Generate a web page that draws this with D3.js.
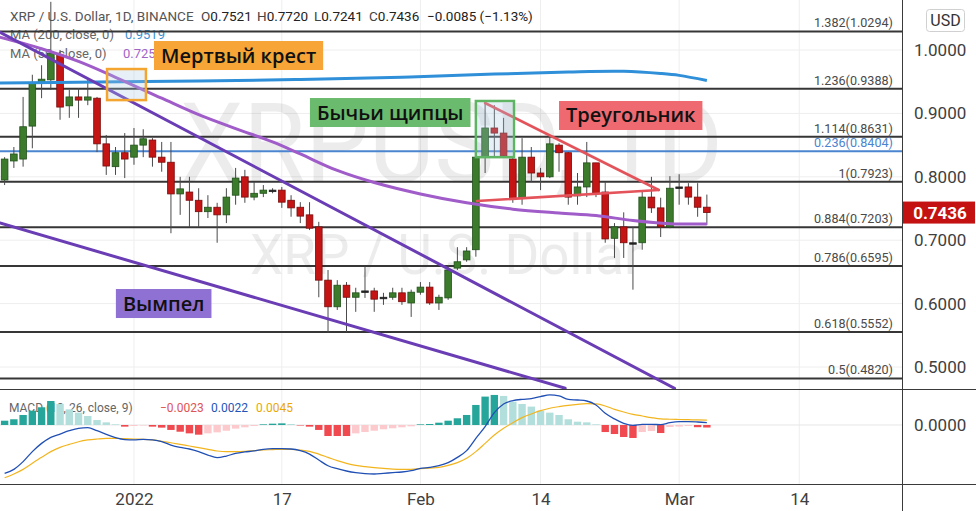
<!DOCTYPE html>
<html><head><meta charset="utf-8">
<script src="https://cdn.jsdelivr.net/npm/d3@7/dist/d3.min.js"></script>
<style>body{margin:0;background:#fff;overflow:hidden}svg{display:block;font-family:Roboto,"DejaVu Sans",sans-serif}</style>
</head><body><svg id="c" width="976" height="511"></svg>
<script>
// ---------- DATA ----------
const dates = d3.utcDay.range(new Date(Date.UTC(2021,11,18)), new Date(Date.UTC(2022,2,5)));
const open  = [0.795,0.825,0.828,0.880,0.948,0.953,0.992,0.912,0.926,0.921,0.924,0.852,0.816,0.838,0.831,0.850,0.858,0.831,0.823,0.773,0.776,0.763,0.745,0.752,0.740,0.771,0.800,0.768,0.774,0.779,0.779,0.763,0.752,0.740,0.721,0.637,0.595,0.629,0.610,0.620,0.620,0.610,0.610,0.617,0.601,0.618,0.626,0.601,0.609,0.656,0.669,0.685,0.831,0.877,0.869,0.828,0.767,0.831,0.806,0.800,0.850,0.838,0.770,0.784,0.822,0.776,0.703,0.721,0.696,0.696,0.768,0.751,0.721,0.784,0.784,0.768,0.7521];
const high  = [0.831,0.847,0.926,0.961,0.976,1.076,1.000,0.937,0.940,0.953,0.926,0.866,0.847,0.869,0.877,0.875,0.861,0.855,0.855,0.800,0.800,0.782,0.771,0.759,0.782,0.814,0.811,0.792,0.787,0.782,0.784,0.771,0.760,0.760,0.729,0.653,0.637,0.634,0.625,0.658,0.625,0.617,0.625,0.625,0.622,0.634,0.634,0.614,0.661,0.689,0.689,0.834,0.916,0.913,0.893,0.830,0.861,0.847,0.814,0.863,0.853,0.839,0.806,0.855,0.822,0.792,0.727,0.744,0.721,0.779,0.800,0.767,0.801,0.804,0.790,0.790,0.7720];
const low   = [0.787,0.814,0.816,0.845,0.924,0.937,0.890,0.893,0.893,0.913,0.839,0.803,0.803,0.798,0.819,0.831,0.816,0.808,0.711,0.740,0.721,0.721,0.735,0.696,0.727,0.756,0.759,0.763,0.768,0.774,0.751,0.737,0.727,0.716,0.610,0.554,0.590,0.555,0.587,0.609,0.587,0.598,0.606,0.598,0.579,0.614,0.598,0.590,0.606,0.653,0.666,0.674,0.806,0.830,0.830,0.759,0.756,0.792,0.779,0.798,0.808,0.756,0.756,0.768,0.768,0.696,0.672,0.672,0.622,0.685,0.743,0.705,0.719,0.756,0.756,0.737,0.7241];
const close = [0.828,0.836,0.879,0.948,0.954,0.995,0.910,0.926,0.921,0.926,0.852,0.817,0.838,0.828,0.850,0.860,0.831,0.823,0.773,0.781,0.763,0.745,0.752,0.740,0.768,0.798,0.768,0.774,0.779,0.778,0.760,0.751,0.738,0.719,0.637,0.595,0.629,0.610,0.617,0.618,0.607,0.609,0.617,0.603,0.618,0.626,0.601,0.610,0.653,0.666,0.683,0.831,0.877,0.869,0.833,0.765,0.831,0.806,0.800,0.852,0.838,0.768,0.784,0.822,0.774,0.702,0.721,0.696,0.694,0.768,0.751,0.721,0.782,0.782,0.768,0.752,0.7436];

const ma50Dates  = ["2021-12-17","2021-12-22","2021-12-26","2021-12-30","2022-01-04","2022-01-08","2022-01-12","2022-01-16","2022-01-19","2022-01-23","2022-01-27","2022-02-01","2022-02-06","2022-02-11","2022-02-16","2022-02-20","2022-02-24","2022-02-28","2022-03-04"];
const ma50Values = [1.022,1.002,0.982,0.957,0.924,0.898,0.876,0.855,0.836,0.810,0.791,0.773,0.759,0.749,0.743,0.739,0.731,0.726,0.7255];
const ma200Dates  = ["2021-12-17","2021-12-28","2022-01-08","2022-01-19","2022-01-30","2022-02-09","2022-02-17","2022-02-23","2022-02-27","2022-03-01","2022-03-04"];
const ma200Values = [0.948,0.9495,0.951,0.9535,0.957,0.962,0.9655,0.9665,0.963,0.960,0.9519];

const macdHist = [0.0039,0.0052,0.0091,0.0130,0.0161,0.0218,0.0191,0.0142,0.0112,0.0082,0.0045,0.0024,0.0006,-0.0015,-0.0009,-0.0003,-0.0015,-0.0024,-0.0045,-0.0061,-0.0076,-0.0088,-0.0076,-0.0067,-0.0052,-0.0033,-0.0021,-0.0009,0.0006,0.0012,0.0015,0.0009,-0.0003,-0.0015,-0.0045,-0.0100,-0.0100,-0.0100,-0.0076,-0.0064,-0.0052,-0.0039,-0.0030,-0.0021,-0.0012,0.0006,0.0009,0.0021,0.0039,0.0061,0.0091,0.0182,0.0258,0.0273,0.0264,0.0212,0.0191,0.0167,0.0130,0.0112,0.0091,0.0052,0.0030,0.0024,0.0006,-0.0064,-0.0082,-0.0109,-0.0118,-0.0064,-0.0055,-0.0073,-0.0018,-0.0014,-0.0009,-0.0020,-0.0023];
const macdLine = [-0.0439,-0.0403,-0.0333,-0.0242,-0.0167,-0.0112,-0.0082,-0.0052,-0.0030,-0.0024,-0.0052,-0.0085,-0.0115,-0.0133,-0.0136,-0.0130,-0.0136,-0.0152,-0.0182,-0.0203,-0.0218,-0.0242,-0.0273,-0.0297,-0.0282,-0.0258,-0.0245,-0.0236,-0.0221,-0.0215,-0.0215,-0.0218,-0.0233,-0.0264,-0.0318,-0.0370,-0.0397,-0.0418,-0.0433,-0.0442,-0.0445,-0.0439,-0.0433,-0.0427,-0.0415,-0.0394,-0.0385,-0.0370,-0.0342,-0.0294,-0.0233,-0.0121,-0.0015,0.0112,0.0191,0.0221,0.0233,0.0239,0.0258,0.0273,0.0264,0.0233,0.0227,0.0218,0.0182,0.0106,0.0055,0.0015,-0.0003,0.0006,0.0006,0.0003,0.0021,0.0030,0.0030,0.0027,0.0022];
const signalLine = [-0.0479,-0.0445,-0.0403,-0.0348,-0.0294,-0.0242,-0.0203,-0.0176,-0.0152,-0.0136,-0.0127,-0.0121,-0.0121,-0.0124,-0.0127,-0.0130,-0.0136,-0.0148,-0.0161,-0.0176,-0.0191,-0.0206,-0.0221,-0.0236,-0.0242,-0.0242,-0.0239,-0.0233,-0.0227,-0.0224,-0.0221,-0.0221,-0.0227,-0.0239,-0.0264,-0.0294,-0.0324,-0.0348,-0.0367,-0.0379,-0.0388,-0.0394,-0.0400,-0.0403,-0.0403,-0.0397,-0.0391,-0.0385,-0.0367,-0.0342,-0.0303,-0.0242,-0.0167,-0.0091,-0.0030,0.0021,0.0067,0.0100,0.0130,0.0152,0.0167,0.0179,0.0188,0.0194,0.0191,0.0173,0.0142,0.0118,0.0097,0.0082,0.0067,0.0055,0.0052,0.0050,0.0048,0.0046,0.0045];

const fibLevels = [1.382,1.236,1.114,1,0.884,0.786,0.618,0.5];
const fibPrices = [1.0294,0.9388,0.8631,0.7923,0.7203,0.6595,0.5552,0.4820];
const fibBlue = {level:0.236, price:0.8404};

const priceTicks = [1.0,0.9,0.8,0.7,0.6,0.5];
const timeTicks = ["2022-01-01","2022-01-17","2022-02-01","2022-02-14","2022-03-01","2022-03-14"];
const timeTickLabels = ["2022","17","Feb","14","Mar","14"];

// drawings (in date / price coordinates)
const pennantUpper = [["2021-12-17T12:00Z",1.028],["2022-02-28T12:00Z",0.4664]];
const pennantLower = [["2021-12-17T12:00Z",0.7271],["2022-02-16T16:00Z",0.4665]];
const triangleUpper = [["2022-02-08T00:00Z",0.9164],["2022-02-26T19:00Z",0.7792]];
const triangleLower = [["2022-02-07T03:00Z",0.7618],["2022-02-26T19:00Z",0.7792]];
const deathCrossBox = {d0:"2021-12-29T02:00Z", d1:"2022-01-02T07:00Z", p0:0.970, p1:0.921};
const pincersBox = {d0:"2022-02-07T00:00Z", d1:"2022-02-11T03:00Z", p0:0.9196, p1:0.831};
const labels = [
  {text:"Мертвый крест", d:"2022-01-03T04:00Z", p:1.0142, bg:"#f6a536"},
  {text:"Бычьи щипцы",  d:"2022-01-20T01:00Z", p:0.9243, bg:"#6bbb6e"},
  {text:"Треугольник",  d:"2022-02-16T00:00Z", p:0.9196, bg:"#ee6a70"},
  {text:"Вымпел",       d:"2021-12-30T01:00Z", p:0.6230, bg:"#8f70d3"}
];

// ---------- LAYOUT ----------
const W=976,H=511, plotW=902, priceTop=0, priceBot=389, macdTop=389, macdBot=484;
const svg = d3.select("#c");
const x = d3.scaleUtc().domain([new Date("2021-12-17T12:00Z"), new Date("2022-03-25T02:49Z")]).range([0,plotW]);
const y = d3.scaleLinear().domain([0.4653,1.0789]).range([priceBot,priceTop]);
const ym = d3.scaleLinear().domain([-0.0536,0.0327]).range([macdBot,macdTop]);
const step = x(dates[1])-x(dates[0]);
const P = s => new Date(s.length<=10 ? s+"T00:00Z" : s);

const defs = svg.append("defs");
defs.append("clipPath").attr("id","cp").append("rect").attr("x",0).attr("y",0).attr("width",plotW).attr("height",priceBot);
defs.append("clipPath").attr("id","cm").append("rect").attr("x",0).attr("y",macdTop).attr("width",plotW).attr("height",macdBot-macdTop);

svg.append("rect").attr("width",W).attr("height",H).attr("fill","#fff");

// grid
const grid = svg.append("g");
grid.selectAll(".hg").data(priceTicks).join("line").attr("x1",0).attr("x2",plotW)
  .attr("y1",d=>y(d)).attr("y2",d=>y(d)).attr("stroke","#eeeeee");
grid.selectAll(".vg").data(timeTicks).join("line").attr("x1",d=>x(P(d))).attr("x2",d=>x(P(d)))
  .attr("y1",0).attr("y2",macdBot).attr("stroke","#eeeeee");
grid.append("line").attr("x1",0).attr("x2",plotW).attr("y1",ym(0)).attr("y2",ym(0)).attr("stroke","#e6e6e6");

// watermark
const wm = svg.append("g").attr("fill","#000").attr("opacity",0.07).attr("font-family","Roboto, sans-serif");
wm.append("text").attr("x",180).attr("y",182).attr("font-size",112).attr("textLength",543).attr("lengthAdjust","spacingAndGlyphs").text("XRPUSD, 1D");
wm.append("text").attr("x",250).attr("y",274).attr("font-size",56).attr("textLength",392).attr("lengthAdjust","spacingAndGlyphs").text("XRP / U.S. Dollar");

// legends (under marks)
const lg = svg.append("g");
const hdr = lg.append("text").attr("x",10).attr("y",21).attr("font-size",13.5).attr("fill","#555");
hdr.append("tspan").text("XRP / U.S. Dollar, 1D, BINANCE");
[["O","0.7521",201],["H","0.7720",257],["L","0.7241",314],["C","0.7436",369]].forEach(([k,v,px])=>{
  const t = lg.append("text").attr("x",px).attr("y",21).attr("font-size",13.5);
  t.append("tspan").attr("fill","#444").text(k);
  t.append("tspan").attr("fill","#222").text(v);
});
lg.append("text").attr("x",427).attr("y",21).attr("font-size",13.5).attr("fill","#222").text("−0.0085 (−1.13%)");
lg.append("text").attr("x",10).attr("y",39).attr("font-size",13).attr("fill","#666").text("MA (200, close, 0)");
lg.append("text").attr("x",125).attr("y",39).attr("font-size",13).attr("fill","#3b8fd0").text(ma200Values[ma200Values.length-1].toFixed(4));
lg.append("text").attr("x",10).attr("y",58).attr("font-size",13).attr("fill","#666").text("MA (50, close, 0)");
lg.append("text").attr("x",123).attr("y",58).attr("font-size",13).attr("fill","#a064c8").text(ma50Values[ma50Values.length-1].toFixed(4));
lg.append("text").attr("x",9).attr("y",412).attr("font-size",12).attr("fill","#666").text("MACD (12, 26, close, 9)");
lg.append("text").attr("x",160).attr("y",412).attr("font-size",12).attr("fill","#e05454").text("−"+Math.abs(macdHist[macdHist.length-1]).toFixed(4));
lg.append("text").attr("x",211).attr("y",412).attr("font-size",12).attr("fill","#2454b8").text(macdLine[macdLine.length-1].toFixed(4));
lg.append("text").attr("x",256).attr("y",412).attr("font-size",12).attr("fill","#eaa800").text(signalLine[signalLine.length-1].toFixed(4));

// price pane
const pp = svg.append("g").attr("clip-path","url(#cp)");
pp.selectAll(".fib").data(fibPrices).join("line").attr("x1",0).attr("x2",plotW)
  .attr("y1",d=>y(d)).attr("y2",d=>y(d)).attr("stroke","#363636").attr("stroke-width",2);
pp.append("line").attr("x1",0).attr("x2",plotW).attr("y1",y(fibBlue.price)).attr("y2",y(fibBlue.price))
  .attr("stroke","#4b84cf").attr("stroke-width",2);
svg.append("g").selectAll("text").data(fibLevels.map((l,i)=>[l,fibPrices[i]])).join("text")
  .attr("x",plotW-9).attr("y",d=>y(d[1])-4).attr("text-anchor","end").attr("font-size",12.6).attr("fill","#4a4a4a")
  .text(d=>`${d[0]}(${d[1].toFixed(4)})`);
svg.append("text").attr("x",plotW-9).attr("y",y(fibBlue.price)-4).attr("text-anchor","end").attr("font-size",12.6)
  .attr("fill","#4b84cf").text(`${fibBlue.level}(${fibBlue.price.toFixed(4)})`);

// candles
const bw = step*0.72;
const cg = pp.append("g");
dates.forEach((d,i)=>{
  const cx = x(d), o=open[i], c=close[i];
  const doji = Math.abs(o-c) < 0.0025;
  const up = c>=o;
  const fill = doji ? "#222" : (up ? "#3c7b2b" : "#c41414");
  const stroke = doji ? "#222" : (up ? "#21501a" : "#7a0b0b");
  cg.append("line").attr("x1",cx).attr("x2",cx).attr("y1",y(high[i])).attr("y2",y(low[i])).attr("stroke","#4a4a4a").attr("stroke-width",1);
  const y0 = y(Math.max(o,c)), y1 = y(Math.min(o,c));
  cg.append("rect").attr("x",cx-bw/2).attr("y",y0).attr("width",bw).attr("height",Math.max(1.5,y1-y0))
    .attr("fill",fill).attr("stroke",stroke).attr("stroke-width",0.8);
});

// moving averages
const lineGen = d3.line().x(d=>x(d[0])).y(d=>y(d[1])).curve(d3.curveCatmullRom);
pp.append("path").attr("d",lineGen(ma200Dates.map((d,i)=>[P(d),ma200Values[i]]))).attr("fill","none").attr("stroke","#2f8fd8").attr("stroke-width",3);
pp.append("path").attr("d",lineGen(ma50Dates.map((d,i)=>[P(d),ma50Values[i]]))).attr("fill","none").attr("stroke","#a05cc9").attr("stroke-width",3);

// drawings
const seg = (pts,col,w)=>pp.append("line").attr("x1",x(P(pts[0][0]))).attr("y1",y(pts[0][1]))
   .attr("x2",x(P(pts[1][0]))).attr("y2",y(pts[1][1])).attr("stroke",col).attr("stroke-width",w).attr("stroke-linecap","round");
seg(pennantUpper,"#6a3db5",3);
seg(pennantLower,"#6a3db5",3);
seg(triangleUpper,"#e4525a",2.6);
seg(triangleLower,"#e4525a",2.6);
const box = (b,col)=>pp.append("rect").attr("x",x(P(b.d0))).attr("y",y(b.p0)).attr("width",x(P(b.d1))-x(P(b.d0)))
   .attr("height",y(b.p1)-y(b.p0)).attr("fill","rgba(170,200,228,0.28)").attr("stroke",col).attr("stroke-width",2.5);
box(deathCrossBox,"#f3a530");
box(pincersBox,"#5fb463");

// annotation labels
labels.forEach(L=>{
  const g = svg.append("g");
  const lx = x(P(L.d)), ly = y(L.p);
  const r = g.append("rect").attr("x",lx).attr("y",ly).attr("height",29).attr("fill",L.bg);
  const t = g.append("text").attr("x",lx+7).attr("y",ly+21.5).attr("font-size",20).attr("font-weight",600)
     .attr("font-family","'Open Sans',sans-serif").attr("fill","#111").text(L.text);
  const tw = t.node().getComputedTextLength();
  r.attr("width",tw+14);
});

// macd pane
const mp = svg.append("g").attr("clip-path","url(#cm)");
const hw = step*0.8;
macdHist.forEach((h,i)=>{
  const prev = i>0 ? macdHist[i-1] : h;
  const col = h>=0 ? (h>=prev ? "#26a69a" : "#b2dfdb") : (h<=prev ? "#f04a50" : "#fcc9cd");
  const y0 = ym(Math.max(0,h)), y1 = ym(Math.min(0,h));
  mp.append("rect").attr("x",x(dates[i])-hw/2).attr("y",y0).attr("width",hw).attr("height",Math.max(0.5,y1-y0)).attr("fill",col);
});
const ml = d3.line().x((d,i)=>x(dates[i])).y(d=>ym(d)).curve(d3.curveMonotoneX);
mp.append("path").attr("d",ml(signalLine)).attr("fill","none").attr("stroke","#f2b51e").attr("stroke-width",1.2);
mp.append("path").attr("d",ml(macdLine)).attr("fill","none").attr("stroke","#2150b5").attr("stroke-width",1.3);

// separators
svg.append("line").attr("x1",plotW+0.5).attr("x2",plotW+0.5).attr("y1",0).attr("y2",H).attr("stroke","#3a3a3a");
svg.append("line").attr("x1",0).attr("x2",W).attr("y1",priceBot+0.5).attr("y2",priceBot+0.5).attr("stroke","#3a3a3a");
svg.append("line").attr("x1",0).attr("x2",W).attr("y1",macdBot+0.5).attr("y2",macdBot+0.5).attr("stroke","#3a3a3a");

// right axis
const ra = svg.append("g").attr("transform",`translate(${plotW},0)`);
ra.call(d3.axisRight(y).tickValues(priceTicks).tickFormat(d3.format(".4f")).tickSize(0).tickPadding(12));
ra.select(".domain").remove();
ra.selectAll("text").attr("font-size",17).attr("fill","#404040").attr("font-family","Roboto,sans-serif");
const rm = svg.append("g").attr("transform",`translate(${plotW},0)`);
rm.call(d3.axisRight(ym).tickValues([0]).tickFormat(d3.format(".4f")).tickSize(0).tickPadding(12));
rm.select(".domain").remove();
rm.selectAll("text").attr("font-size",17).attr("fill","#404040").attr("font-family","Roboto,sans-serif");

// last price label
const last = close[close.length-1];
svg.append("rect").attr("x",plotW+1).attr("y",y(last)-11).attr("width",72).attr("height",22).attr("fill","#c41212");
svg.append("text").attr("x",plotW+38).attr("y",y(last)+6).attr("text-anchor","middle").attr("font-size",17).attr("font-weight","bold").attr("fill","#fff").text(last.toFixed(4));

// USD box
svg.append("rect").attr("x",926.5).attr("y",9.5).attr("width",38).attr("height",22).attr("rx",3).attr("fill","#fff").attr("stroke","#d0d0d0");
svg.append("text").attr("x",945.5).attr("y",26).attr("text-anchor","middle").attr("font-size",16).attr("fill","#333").text("USD");

// time axis
const ta = svg.append("g").attr("transform",`translate(0,${macdBot})`);
ta.call(d3.axisBottom(x).tickValues(timeTicks.map(P)).tickFormat((d,i)=>timeTickLabels[i]).tickSize(0).tickPadding(9));
ta.select(".domain").remove();
ta.selectAll("text").attr("font-size",17).attr("fill","#404040").attr("font-family","Roboto,sans-serif");
</script></body></html>
